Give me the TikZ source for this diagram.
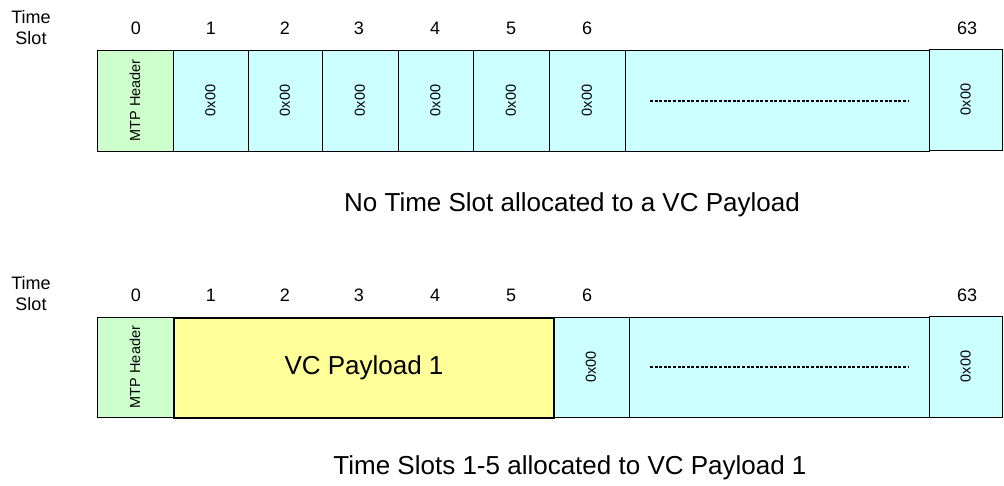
\documentclass[tikz,border=0pt]{standalone}
\usepackage{fontspec}
\setmainfont{Liberation Sans}
\definecolor{hdrgreen}{HTML}{CCFFCC}
\definecolor{slotcyan}{HTML}{CCFFFF}
\definecolor{payyellow}{HTML}{FFFF99}
\begin{document}
\begin{tikzpicture}[x=1pt,y=1pt,
  cell/.style={draw=black, line width=0.8pt, inner sep=0pt, outer sep=0pt, anchor=north west},
  hdr/.style={cell, fill=hdrgreen},
  slot/.style={cell, fill=slotcyan},
  pay/.style={cell, fill=payyellow, line width=2.6pt},
  vtext/.style={rotate=90, font=\fontsize{14.5}{16}\selectfont, inner sep=0pt},
  lbl/.style={font=\fontsize{18}{21}\selectfont, inner sep=0pt},
  captext/.style={font=\fontsize{26}{29}\selectfont, inner sep=0pt},
  dots/.style={line width=2.2pt, dash pattern=on 3pt off 1.6pt}
]
\useasboundingbox[fill=white] (0,0) rectangle (1004,-485);

% ---------- top row ----------
\node[lbl, align=center] (ts1) at (31,-28) {Time\\Slot};
\foreach \n/\x in {0/136,1/211,2/285,3/359,4/435,5/511,6/587,63/967}
  \node[lbl] (tn\n) at (\x,-28) {\n};

\node[hdr, minimum width=76pt, minimum height=101pt] (h1) at (97,-50) {};
\node[vtext] (h1t) at (h1.center) {MTP Header};
\foreach \i/\xa/\w in {1/173/75,2/248/74,3/322/76,4/398/75,5/473/76,6/549/76}{
  \node[slot, minimum width=\w pt, minimum height=101pt] (c\i) at (\xa,-50) {};
  \node[vtext] (c\i t) at (c\i.center) {0x00};
}
\node[slot, minimum width=304pt, minimum height=101pt] (big1) at (625,-50) {};
\coordinate (d1a) at (650,-101);
\coordinate (d1b) at (909,-101);
\draw[dots] (d1a) -- (d1b);
\node[slot, minimum width=73pt, minimum height=101pt] (last1) at (929,-49) {};
\node[vtext] (last1t) at (last1.center) {0x00};

\node[captext] (cap1) at (572,-205) {No Time Slot allocated to a VC Payload};

% ---------- bottom row ----------
\node[lbl, align=center] (ts2) at (31,-294) {Time\\Slot};
\foreach \n/\x in {0/136,1/211,2/285,3/359,4/435,5/511,6/587,63/967}
  \node[lbl] (bn\n) at (\x,-295) {\n};

\node[hdr, minimum width=76pt, minimum height=100pt] (h2) at (97,-317) {};
\node[vtext] (h2t) at (h2.center) {MTP Header};
\node[slot, minimum width=76pt, minimum height=100pt] (c26) at (553,-317) {};
\node[vtext] (c26t) at (c26.center) {0x00};
\node[slot, minimum width=300pt, minimum height=100pt] (big2) at (629,-317) {};
\coordinate (d2a) at (650,-367);
\coordinate (d2b) at (909,-367);
\draw[dots] (d2a) -- (d2b);
\node[slot, minimum width=73pt, minimum height=101pt] (last2) at (929,-316) {};
\node[vtext] (last2t) at (last2.center) {0x00};
\node[pay, minimum width=380pt, minimum height=100pt] (vc) at (174,-318) {};
\node[captext] (vct) at (vc.center) {VC Payload 1};

\node[captext] (cap2) at (570,-468) {Time Slots 1-5 allocated to VC Payload 1};
\end{tikzpicture}
\end{document}
